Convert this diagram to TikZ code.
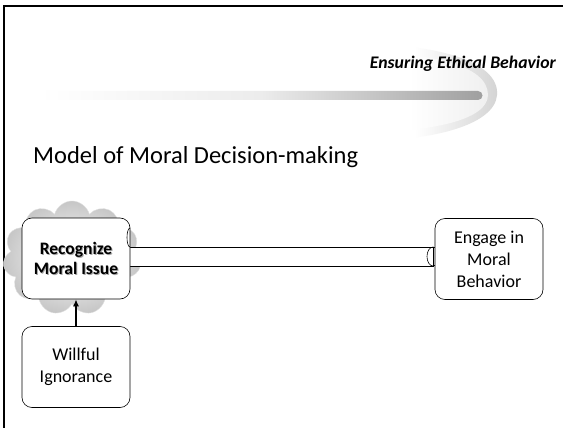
\documentclass[tikz,border=0pt]{standalone}
\usepackage{fontspec}
\setmainfont{Carlito}
\usetikzlibrary{shapes.symbols,arrows.meta,fadings,calc}
\begin{document}
\begin{tikzpicture}[x=1pt,y=-1pt,
  box/.style={draw, rounded corners=10pt, minimum width=108pt, minimum height=81pt, fill=white, align=center, font=\fontsize{18}{22}\selectfont, line width=0.6pt, inner sep=2pt},
  title/.style={font=\fontsize{17.7}{20}\selectfont\bfseries\itshape, anchor=east, inner sep=0pt},
  heading/.style={font=\fontsize{24.5}{28}\selectfont, anchor=west, inner sep=0pt}
]
\useasboundingbox (0,0) rectangle (563,428);
\fill[white] (0,0) rectangle (563,428);
\begin{scope}
\clip (0,0) rectangle (563,428);
% frame
\draw[line width=2pt] (3.5,440) -- (3.5,6.5) -- (580,6.5);
% swoosh (large light part)
\shade[left color=white, right color=gray!35, middle color=white] (330,45) .. controls (430,40) and (500,60) .. (497,95) .. controls (495,125) and (430,145) .. (330,140) -- cycle;
\shade[left color=white, right color=gray!12, middle color=white] (330,52) .. controls (430,50) and (488,65) .. (488,95) .. controls (488,120) and (430,135) .. (330,132) -- cycle;
% swoosh bar
\shade[left color=white, right color=gray!75, middle color=gray!15] (40,91) -- (478,91) arc[start angle=-90, end angle=90, x radius=4.5pt, y radius=-4.5pt] -- (40,100) -- cycle;
\end{scope}
\node[title] (t) at (556,64) {Ensuring Ethical Behavior};
\node[heading] (h) at (33,157) {Model of Moral Decision-making};
% cloud
\node[cloud, cloud puffs=11, aspect=1.2, minimum width=138pt, minimum height=114pt, inner color=white, outer color=gray!45, draw=gray!25] (cl) at (72,258) {};
% cylinder connector
\draw[line width=0.6pt, fill=white] (128,247) -- (433,247) -- (433,266) -- (128,266);
\draw[line width=0.6pt] (433,256.5) ellipse[x radius=6pt, y radius=9.5pt];
% boxes
\node[box] (rec) at (76,258.5) {};
\draw[line width=0.6pt] (130,247) arc[start angle=90, end angle=270, x radius=3pt, y radius=-9.5pt];
\node[box] (eng) at (489,259) {Engage in\\Moral\\Behavior};
\node[box] (wil) at (76,367) {Willful\\Ignorance};
% text of recognize box with shadow
\node[align=center, font=\fontsize{17.5}{20}\selectfont\bfseries, text=gray!70] at ($(rec.center)+(1,1)$) {Recognize\\Moral Issue};
\node[align=center, font=\fontsize{17.5}{20}\selectfont\bfseries] (rt) at (rec.center) {Recognize\\Moral Issue};
% arrow
\draw[-{Latex[length=7pt,width=6pt]}, line width=1.8pt] (wil.north) -- (rec.south);
\end{tikzpicture}
\end{document}
